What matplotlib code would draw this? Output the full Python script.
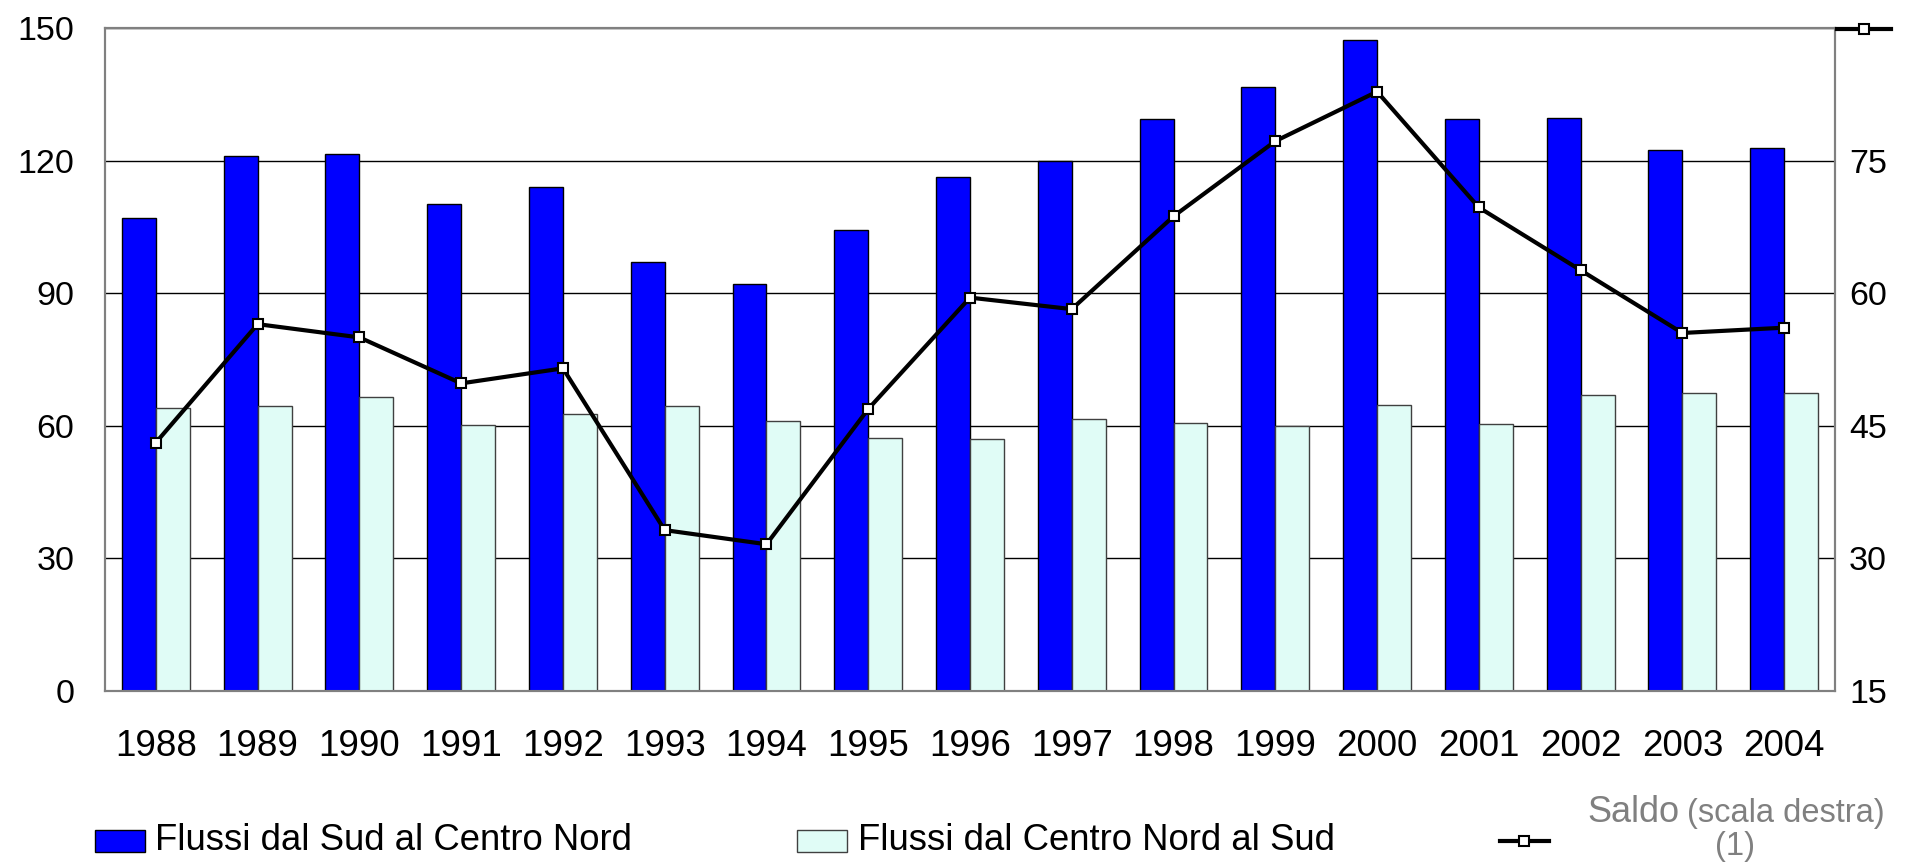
import matplotlib
matplotlib.use("Agg")
import matplotlib.pyplot as plt
import numpy as np
from matplotlib.patches import Rectangle
from matplotlib.lines import Line2D

years = ["1988", "1989", "1990", "1991", "1992", "1993", "1994", "1995", "1996",
         "1997", "1998", "1999", "2000", "2001", "2002", "2003", "2004"]
sud_to_cn = [107.1, 121.0, 121.4, 110.1, 114.0, 97.0, 92.0, 104.3, 116.4,
             120.0, 129.4, 136.7, 147.3, 129.5, 129.6, 122.4, 122.9]
cn_to_sud = [64.0, 64.4, 66.5, 60.2, 62.7, 64.4, 61.0, 57.3, 57.0,
             61.5, 60.7, 60.0, 64.6, 60.4, 66.9, 67.4, 67.4]
saldo = [43.1, 56.5, 55.0, 49.8, 51.5, 33.2, 31.6, 46.9, 59.5,
         58.2, 68.7, 77.2, 82.8, 69.7, 62.6, 55.5, 56.1]

left_ticks = [0, 30, 60, 90, 120, 150]
right_ticks = [15, 30, 45, 60, 75]

label_sud = "Flussi dal Sud al Centro Nord"
label_cn = "Flussi dal Centro Nord al Sud"

plt.rcParams['font.family'] = ['Liberation Sans', 'DejaVu Sans']

W, H = 1910, 866
fig = plt.figure(figsize=(W / 100, H / 100), dpi=100)
ax = fig.add_axes([105 / W, 1 - 691 / H, (1835 - 105) / W, (691 - 28) / H])

dark = "#0000FF"
light = "#E0FCF6"
x = np.arange(len(years))
bw = 1 / 3
ax.bar(x - bw / 2, sud_to_cn, width=bw, color=dark, edgecolor="black", linewidth=1.0, zorder=3)
ax.bar(x + bw / 2, cn_to_sud, width=bw, color=light, edgecolor="#404040", linewidth=1.0, zorder=3)

ax.set_xlim(-0.5, len(years) - 0.5)
ax.set_ylim(0, 150)
ax.set_yticks(left_ticks)
ax.yaxis.grid(True, color="black", linewidth=1.0, zorder=0)
ax.set_axisbelow(True)
ax.set_xticks(x)
ax.set_xticklabels(years)
ax.tick_params(axis="x", length=0, labelsize=26.5, pad=27)
ax.tick_params(axis="y", length=0, labelsize=24.5, pad=22)
for s in ax.spines.values():
    s.set_color("#808080")
    s.set_linewidth(1.5)

ax2 = ax.twinx()
ax2.set_ylim(15, 90)
ax2.set_yticks(right_ticks)
ax2.tick_params(axis="y", length=0, labelsize=24.5, pad=10)
for s in ax2.spines.values():
    s.set_color("#808080")
    s.set_linewidth(1.5)
ax2.plot(x, saldo, color="black", linewidth=3, marker="s", markersize=7.5,
         markerfacecolor="white", markeredgecolor="black", markeredgewidth=1.5, zorder=5)

# marker glyph at the top-right (in place of the 90 tick label)
fig.add_artist(Line2D([1837 / W, 1891 / W], [1 - 29 / H, 1 - 29 / H], color="black", linewidth=3,
                      transform=fig.transFigure))
fig.add_artist(Line2D([1864 / W], [1 - 29 / H], marker="s", markersize=7.5, markerfacecolor="white",
                      markeredgecolor="black", markeredgewidth=1.5, transform=fig.transFigure))

# legend
fig.add_artist(Rectangle((95 / W, 1 - 852 / H), 50 / W, 22 / H, facecolor=dark, edgecolor="black",
                         linewidth=1, transform=fig.transFigure))
fig.text(155 / W, 1 - 840 / H, label_sud, fontsize=26.3, va="center", ha="left")
fig.add_artist(Rectangle((797 / W, 1 - 852 / H), 50 / W, 22 / H, facecolor=light, edgecolor="#404040",
                         linewidth=1, transform=fig.transFigure))
fig.text(858 / W, 1 - 840 / H, label_cn, fontsize=26.3, va="center", ha="left")

fig.add_artist(Line2D([1500 / W, 1549 / W], [1 - 841 / H, 1 - 841 / H], color="black", linewidth=3,
                      transform=fig.transFigure))
fig.add_artist(Line2D([1524 / W], [1 - 841 / H], marker="s", markersize=7.5, markerfacecolor="white",
                      markeredgecolor="black", markeredgewidth=1.5, transform=fig.transFigure))
t1 = fig.text(1587 / W, 1 - 822 / H, "Saldo", fontsize=26, color="#808080", ha="left", va="baseline")
fig.canvas.draw()
bb = t1.get_window_extent()
fig.text((bb.x1 + 8) / W, 1 - 822 / H, "(scala destra)", fontsize=23.5, color="#808080",
         ha="left", va="baseline")
fig.text(1735 / W, 1 - 847 / H, "(1)", fontsize=23.5, color="#808080", ha="center", va="center")

fig.savefig("out.png", dpi=100)
